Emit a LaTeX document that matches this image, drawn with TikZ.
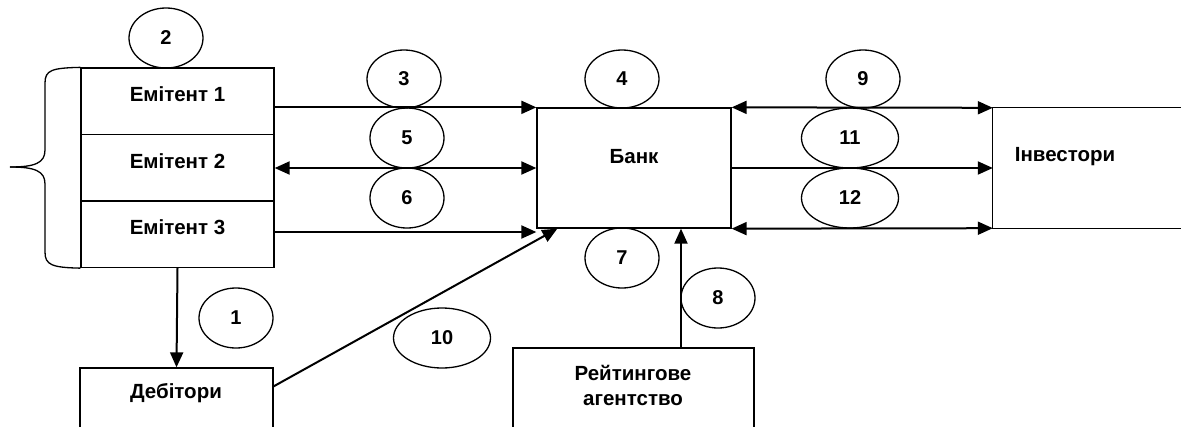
\documentclass[tikz,border=0pt]{standalone}
\usepackage{fontspec}
\setmainfont{Liberation Sans}
\usetikzlibrary{arrows.meta,calc,shapes.geometric}
\begin{document}
\begin{tikzpicture}[x=1pt,y=-1pt,
  box/.style={draw,line width=1.3pt,rectangle,inner sep=0pt},
  lbl/.style={font=\bfseries\fontsize{20.5}{25}\selectfont,inner sep=0pt,align=center},
  oval/.style={draw,ellipse,line width=1.3pt,inner sep=0pt,minimum width=74pt,minimum height=59pt,font=\bfseries\fontsize{20}{22}\selectfont},
  wide/.style={oval,minimum width=97pt},
  arr/.style={line width=2pt,-{Triangle[length=15pt,width=13pt]}},
  darr/.style={line width=2pt,{Triangle[length=15pt,width=13pt]}-{Triangle[length=15pt,width=13pt]}}]
\clip (0,0) rectangle (1181,426);
\fill[white] (0,0) rectangle (1181,426);
% boxes
\node[box,minimum width=193pt,minimum height=66.5pt] (e1) at (177.5,101.25) {};
\node[box,minimum width=193pt,minimum height=66.5pt] (e2) at (177.5,167.75) {};
\node[box,minimum width=193pt,minimum height=66.5pt] (e3) at (177.5,234.25) {};
\node[lbl] at ($(e1.center)+(0,-7)$) {Емітент 1};
\node[lbl] at ($(e2.center)+(0,-7)$) {Емітент 2};
\node[lbl] at ($(e3.center)+(0,-7)$) {Емітент 3};
\node[box,minimum width=194pt,minimum height=120pt] (bank) at (634,168) {};
\node[lbl] at ($(bank.center)+(0,-11)$) {Банк};
\node[inner sep=0pt,minimum width=188pt,minimum height=120pt] (inv) at (1087,168) {};
\draw[line width=1.3pt] (inv.north east) -- (inv.north west) -- (inv.south west) -- (inv.south east);
\node[lbl] at (1065,157) {Інвестори};
\node[box,minimum width=241pt,minimum height=100pt] (rat) at (633.5,398) {};
\node[lbl] at (633,385.5) {Рейтингове\\агентство};
\node[box,minimum width=193pt,minimum height=100pt] (deb) at (176.5,418) {};
\node[lbl] at (176,393) {Дебітори};
% brace
\draw[line width=1.3pt] (e1.north west) .. controls (52,68) and (45,70) .. (45,83) -- (45,150) .. controls (45,163) and (35,167) .. (10,167);
\draw[line width=1.3pt] (e3.south west) .. controls (52,267.5) and (45,265) .. (45,252) -- (45,184) .. controls (45,171) and (35,167) .. (10,167);
% coordinates
\coordinate (y6) at (0,232);
\coordinate (x8) at (681,0);
% arrows
\draw[arr] (e1.east |- bank.north) -- (bank.north west);
\draw[darr] (e2.east |- bank.west) -- (bank.west);
\draw[arr] (e3.east |- y6) -- (bank.west |- y6);
\draw[darr] (bank.north east) -- (inv.north west);
\draw[arr] (bank.east) -- (inv.west);
\draw[darr] (bank.south east) -- (inv.south west);
\draw[arr] (e3.south) -- (deb.north);
\draw[arr] (rat.north -| x8) -- (bank.south -| x8);
\draw[arr] ($(deb.north east)+(0,19)$) -- ($(bank.south west)+(21,0)$);
% ovals
\node[oval,minimum height=60pt] (o2) at (166,38) {2};
\node[oval,minimum height=58pt] (o3) at (404,79) {3};
\node[oval,minimum height=58pt] (o4) at (622,79) {4};
\node[oval,minimum height=58pt] (o9) at (863,79) {9};
\node[oval,minimum height=60pt] (o5) at (407,138) {5};
\node[oval,minimum height=60pt] (o6) at (407,198) {6};
\node[wide,minimum height=60pt] (o11) at (850,138) {11};
\node[wide,minimum height=60pt] (o12) at (850,198) {12};
\node[oval,minimum height=60pt] (o7) at (622,258) {7};
\node[oval,minimum height=60pt] (o8) at (718,298) {8};
\node[oval,minimum height=60pt] (o1) at (236,318) {1};
\node[wide,minimum height=60pt] (o10) at (442,338) {10};
\end{tikzpicture}
\end{document}
